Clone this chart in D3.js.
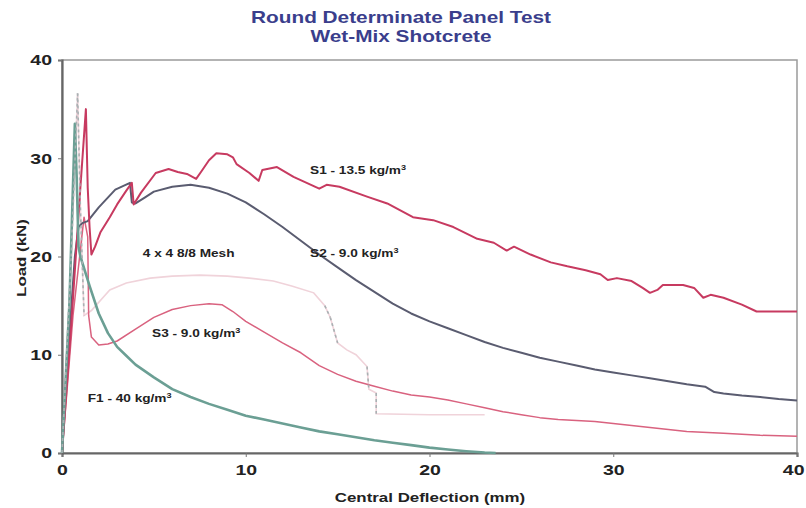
<!DOCTYPE html>
<html>
<head>
<meta charset="utf-8">
<script src="https://d3js.org/d3.v7.min.js"></script>
<style>
	body { margin: 0; background: #fff; }
	text { font-family: "Liberation Sans", Arial, sans-serif; font-weight: bold; }
</style>
</head>
<body>
<script>
// load / deflection readings, [deflection mm, load kN]
const s1Data = [[0,0],[0.5,13],[1.0,27],[1.3,35],[1.4,27],[1.5,23],[1.6,20.2],[1.8,21],[2.1,22.5],[2.6,24],[3.0,25.3],[3.5,26.7],[3.8,27.5],[3.9,25.3],[4.3,26.5],[5.1,28.5],[5.8,28.9],[6.3,28.6],[6.8,28.4],[7.3,27.9],[7.6,28.7],[8.0,29.8],[8.4,30.5],[9.0,30.4],[9.3,30.1],[9.5,29.4],[10.2,28.5],[10.7,27.7],[10.9,28.8],[11.7,29.1],[12.6,28.1],[14.0,26.9],[14.4,27.3],[15.1,27.1],[16.6,26.1],[17.7,25.4],[19.1,24.0],[20.2,23.7],[21.3,23.0],[22.6,21.8],[23.5,21.4],[24.2,20.6],[24.6,21.0],[25.5,20.2],[26.6,19.4],[27.5,19.0],[28.5,18.6],[29.3,18.2],[29.7,17.6],[30.2,17.8],[31.0,17.5],[31.6,16.8],[32.0,16.3],[32.4,16.6],[32.7,17.1],[33.8,17.1],[34.4,16.8],[34.9,15.8],[35.3,16.1],[36.0,15.8],[37.0,15.1],[37.8,14.4],[40,14.4]];
const s2Data = [[0,0],[0.4,12],[0.7,20],[0.9,23],[1.1,23.4],[1.4,23.6],[2.0,25.0],[2.9,26.8],[3.7,27.5],[3.8,25.5],[4.0,25.4],[4.5,26.0],[5.0,26.6],[6.0,27.1],[7.0,27.3],[8.0,27.0],[9.0,26.4],[10.0,25.5],[11.0,24.3],[12.0,23.0],[13.0,21.6],[14.0,20.2],[15.0,18.9],[16.0,17.6],[17.0,16.4],[18.0,15.2],[19.0,14.2],[20.0,13.4],[21.0,12.7],[22.0,12.0],[23.0,11.3],[24.0,10.7],[25.0,10.2],[26.0,9.7],[27.0,9.3],[28.0,8.9],[29.0,8.5],[30.0,8.2],[31.0,7.9],[32.0,7.6],[33.0,7.3],[34.0,7.0],[35.0,6.75],[35.5,6.2],[36.0,6.05],[37.0,5.85],[38.0,5.7],[39.0,5.5],[40.0,5.35]];
const s3Data = [[0,0],[0.6,14],[1.2,24],[1.4,22],[1.45,14],[1.6,11.8],[2.0,11.0],[2.5,11.1],[3.0,11.4],[4.0,12.6],[5.0,13.8],[6.0,14.6],[7.0,15.0],[8.0,15.2],[8.7,15.1],[9.3,14.4],[10.0,13.4],[11.0,12.3],[12.0,11.2],[13.0,10.2],[14.0,8.9],[15.0,8.0],[16.0,7.3],[17.0,6.8],[18.0,6.3],[19.0,5.9],[20.0,5.7],[21.0,5.4],[22.0,5.0],[23.0,4.6],[24.0,4.2],[25.0,3.9],[26.0,3.6],[27.0,3.4],[28.0,3.3],[29.0,3.2],[30.0,3.0],[32.0,2.6],[34.0,2.2],[36.0,2.0],[38.0,1.8],[40.0,1.7]];
const f1Data = [[0,0],[0.4,15],[0.7,33.5],[0.8,28],[0.9,21],[1.0,20],[1.5,17],[2.0,14.2],[2.5,12.2],[3.0,10.8],[3.5,9.9],[4.0,9.0],[5.0,7.7],[6.0,6.5],[7.0,5.7],[8.0,5.0],[9.0,4.4],[10.0,3.8],[11.0,3.4],[12.0,3.0],[13.0,2.6],[14.0,2.2],[15.0,1.9],[16.0,1.6],[17.0,1.3],[18.0,1.05],[19.0,0.8],[20.0,0.55],[21.0,0.35],[22.0,0.18],[23.0,0.05],[23.6,0]];
const meshData = [[0,0],[0.5,20],[0.85,36.6],[1.0,25],[1.2,14],[1.6,14.5],[2.6,16.6],[3.5,17.3],[4.8,17.8],[6.0,18.0],[7.5,18.1],[9.0,18.0],[10.2,17.8],[11.5,17.5],[12.5,17.0],[13.7,16.3],[14.3,15.0],[14.6,13.8],[15.0,11.2],[15.5,10.5],[16.0,10.0],[16.6,8.8],[16.7,6.5],[17.1,6.1],[17.1,4.0],[20.0,3.9],[23.0,3.9]];

const xTicks = [0, 10, 20, 30, 40];
const yTicks = [0, 10, 20, 30, 40];
const titleLines = ["Round Determinate Panel Test", "Wet-Mix Shotcrete"];

// curve labels: text, superscript, x, y in data units
const curveLabels = [
	["S1 - 13.5 kg/m", "3", 13.5, 28.4],
	["S2 - 9.0 kg/m", "3", 13.5, 20.0],
	["4 x 4 8/8 Mesh", "", 4.4, 20.0],
	["S3 - 9.0 kg/m", "3", 4.9, 11.8],
	["F1 - 40 kg/m", "3", 1.4, 5.2]
];

let width = 806, height = 508;
let sx = 1.3; // the original lettering is wide

let svg = d3.select("body").append("svg")
	.attr("width", width)
	.attr("height", height)
	.style("background", "#fff");

let x = d3.scaleLinear().domain([0, 40]).range([62, 797]);
let y = d3.scaleLinear().domain([0, 40]).range([453, 60]);

let wideText = (g, str, px, py, size, anchor, rot) => {
	return g.append("text")
		.attr("transform", `translate(${px},${py})` + (rot ? ` rotate(${rot})` : "") + ` scale(${sx},1)`)
		.attr("text-anchor", anchor)
		.style("font-size", size + "px")
		.text(str);
}

// title
titleLines.forEach((t, i) => {
	wideText(svg, t, 401, 23 + i * 19, 16, "middle").attr("fill", "#3a3e8c");
});

// frame
svg.append("rect")
	.attr("x", x(0)).attr("y", y(40))
	.attr("width", x(40) - x(0)).attr("height", y(0) - y(40))
	.attr("fill", "none")
	.attr("stroke", "#9a9a9a")
	.attr("stroke-width", 1.5);

// axes
let xAxis = svg.append("g")
	.attr("transform", `translate(0,${y(0)})`)
	.call(d3.axisBottom(x).tickValues(xTicks).tickSize(4).tickFormat(d3.format("d")));
let yAxis = svg.append("g")
	.attr("transform", `translate(${x(0)},0)`)
	.call(d3.axisLeft(y).tickValues(yTicks).tickSize(4).tickFormat(d3.format("d")));

[xAxis, yAxis].forEach(a => {
	a.select(".domain").attr("stroke", "#666").attr("stroke-width", 2.2);
	a.selectAll(".tick line").attr("stroke", "#777").attr("stroke-width", 1);
	a.selectAll(".tick text")
		.attr("fill", "#222")
		.style("font-size", "15px")
		.style("font-family", "'Liberation Sans', Arial, sans-serif")
		.style("font-weight", "bold")
		.attr("transform", `scale(${sx},1)`);
});
xAxis.selectAll(".tick text").attr("y", 11);
// keep the last label inside the page
xAxis.selectAll(".tick text").filter(d => d === 40)
	.attr("text-anchor", "end")
	.attr("x", 7 / sx);
yAxis.selectAll(".tick text").attr("x", -10 / sx);

// axis titles
wideText(svg, "Central Deflection (mm)", 430, 502, 13, "middle").attr("fill", "#222");
wideText(svg, "Load (kN)", 26, 258, 13, "middle", -90).attr("fill", "#222");

let line = d3.line().x(d => x(d[0])).y(d => y(d[1]));

let plot = svg.append("g");

plot.append("path")
	.attr("d", line(meshData))
	.attr("fill", "none")
	.attr("stroke", "#f0d3da")
	.attr("stroke-width", 1.6);

// steep parts of the mesh trace were plotted dashed
let meshSteep = d3.pairs(meshData).filter(p => Math.abs((p[1][1] - p[0][1]) / (p[1][0] - p[0][0] || 0.001)) > 4);

let series = [
	{data: s3Data, color: "#d9627f", w: 1.5},
	{data: s2Data, color: "#5a5c70", w: 2},
	{data: s1Data, color: "#c73a60", w: 2},
	{data: f1Data, color: "#6b9f94", w: 2.6}
];

series.forEach(s => {
	plot.append("path")
		.attr("d", line(s.data))
		.attr("fill", "none")
		.attr("stroke", s.color)
		.attr("stroke-width", s.w)
		.attr("stroke-linejoin", "round");
});

plot.selectAll(".mesh-dash")
	.data(meshSteep)
	.enter().append("path")
	.attr("class", "mesh-dash")
	.attr("d", d => line(d))
	.attr("fill", "none")
	.attr("stroke", "#a9b1b3")
	.attr("stroke-width", 1.6)
	.attr("stroke-dasharray", "3,3");

// curve labels
curveLabels.forEach(l => {
	let t = wideText(svg, l[0], x(l[2]), y(l[3]), 10.5, "start").attr("fill", "#222");
	if (l[1]) {
		t.append("tspan")
			.attr("dy", -4)
			.style("font-size", "7px")
			.text(l[1]);
	}
});
</script>
</body>
</html>
